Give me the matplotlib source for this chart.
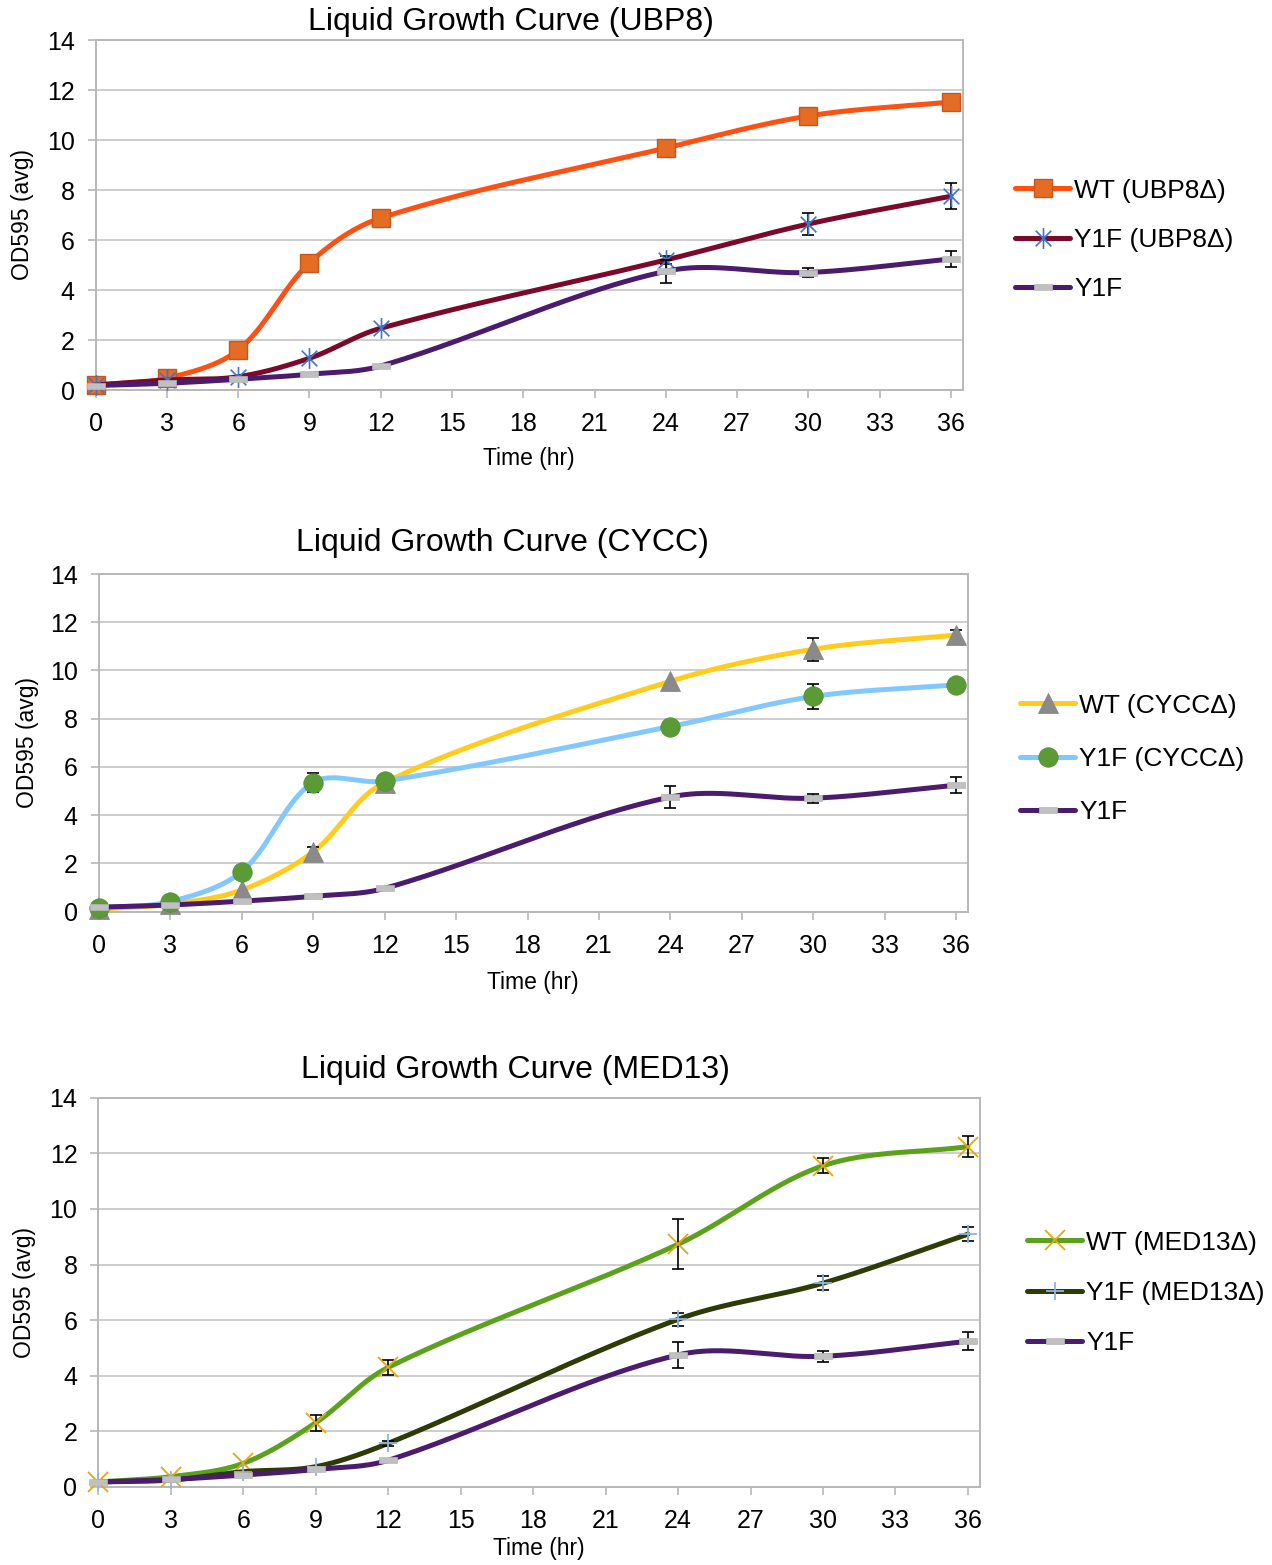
import numpy as np
import matplotlib.pyplot as plt
from matplotlib.path import Path
from matplotlib.lines import Line2D

plt.rcParams['font.family'] = ['Liberation Sans', 'DejaVu Sans']

W, H = 1272, 1565

hours = [0, 3, 6, 9, 12, 24, 30, 36]

# Y1F control, same in all three panels
y1f = [0.18, 0.27, 0.43, 0.63, 0.96, 4.75, 4.70, 5.24]
y1f_err = [0, 0, 0, 0, 0, 0.47, 0.19, 0.33]

# UBP8
ubp8_wt = [0.2, 0.47, 1.6, 5.08, 6.88, 9.68, 10.96, 11.52]
ubp8_wt_err = [0, 0, 0, 0, 0, 0, 0, 0]
ubp8_y1f = [0.2, 0.4, 0.53, 1.27, 2.47, 5.2, 6.64, 7.75]
ubp8_y1f_err = [0, 0, 0, 0, 0, 0.15, 0.43, 0.52]

# CYCC
cycc_wt = [0.1, 0.3, 0.89, 2.47, 5.35, 9.55, 10.88, 11.47]
cycc_wt_err = [0, 0, 0, 0.2, 0, 0, 0.48, 0.2]
cycc_y1f = [0.15, 0.41, 1.65, 5.35, 5.41, 7.67, 8.92, 9.4]
cycc_y1f_err = [0, 0, 0, 0.41, 0, 0, 0.5, 0]

# MED13
med13_wt = [0.18, 0.37, 0.85, 2.31, 4.3, 8.73, 11.55, 12.24]
med13_wt_err = [0, 0, 0, 0.28, 0.28, 0.89, 0.27, 0.39]
med13_y1f = [0.18, 0.25, 0.55, 0.73, 1.57, 6.03, 7.33, 9.09]
med13_y1f_err = [0, 0, 0, 0, 0.1, 0.24, 0.26, 0.26]

M, L, C = Path.MOVETO, Path.LINETO, Path.CLOSEPOLY
ast = Path([(0, -1), (0, 1), (-0.75, -0.75), (0.75, 0.75), (-0.75, 0.75), (0.75, -0.75)],
           [M, L, M, L, M, L])
dash = Path([(-1, -0.33), (1, -0.33), (1, 0.33), (-1, 0.33), (-1, -0.33)], [M, L, L, L, C])


def smooth(x, y, sx, sy, n=50):
    # excel-like smoothed line: bezier, tangents weighted by screen chord length
    P = np.column_stack([np.asarray(x, float) * sx, np.asarray(y, float) * sy])
    k = len(P)
    d = np.hypot(*np.diff(P, axis=0).T)
    t = np.linspace(0, 1, n)[:, None]
    out = []
    for i in range(k - 1):
        p0, p3 = P[i], P[i + 1]
        if i == 0:
            c1 = p0 + (p3 - p0) / 3
        else:
            c1 = p0 + (P[i + 1] - P[i - 1]) * d[i] / (d[i - 1] + d[i]) / 3
        if i + 1 == k - 1:
            c2 = p3 - (p3 - p0) / 3
        else:
            c2 = p3 - (P[i + 2] - P[i]) * d[i] / (d[i] + d[i + 1]) / 3
        seg = (1 - t)**3 * p0 + 3 * (1 - t)**2 * t * c1 + 3 * (1 - t) * t**2 * c2 + t**3 * p3
        out.append(seg)
    out = np.vstack(out)
    return out[:, 0] / sx, out[:, 1] / sy


def series(ax, y, err, color, mk, z, sx, sy):
    x = np.array(hours, float)
    y = np.array(y, float)
    err = np.array(err, float)
    xs, ys = smooth(x, y, sx, sy)
    ax.plot(xs, ys, color=color, lw=3.6, solid_capstyle='round', zorder=z, clip_on=False)
    m = err > 0
    if m.any():
        ax.errorbar(x[m], y[m], yerr=err[m], fmt='none', ecolor='black', elinewidth=1.2,
                    capsize=4.5, capthick=1.2, zorder=z + 0.1, clip_on=False)
    ax.plot(x, y, ls='none', zorder=z + 0.2, clip_on=False, **mk)
    return Line2D([], [], color=color, lw=3.6, solid_capstyle='round', **mk)


mk_square = dict(marker='s', ms=13, mfc='#E46C24', mec='#C8561A', mew=1)
mk_ast = dict(marker=ast, ms=15, mfc='none', mec='#4472C4', mew=1.2)
mk_dash = dict(marker=dash, ms=13, mfc='#C0C0C0', mec='#B8B8B8', mew=0.5)
mk_tri = dict(marker='^', ms=14, mfc='#8A8A8A', mec='#808080', mew=0.5)
mk_circ = dict(marker='o', ms=14, mfc='#5B9B36', mec='#4F8A2E', mew=0.5)
mk_x = dict(marker='x', ms=15, mfc='none', mec='#E5A810', mew=1.3)
mk_plus = dict(marker='+', ms=13, mfc='none', mec='#8DB4E2', mew=1.3)


def make_axes(fig, left, right, top, bottom):
    ax = fig.add_axes([left / W, 1 - bottom / H, (right - left) / W, (bottom - top) / H])
    ax.set_xlim(0, 36.5)
    ax.set_ylim(0, 14)
    ax.set_xticks(range(0, 37, 3))
    ax.set_yticks(range(0, 15, 2))
    ax.grid(axis='y', color='#C0C0C0', lw=1.1)
    ax.set_axisbelow(True)
    for s in ax.spines.values():
        s.set_color('#B8B8B8')
        s.set_linewidth(1.4)
    ax.tick_params(axis='both', labelsize=18, color='#B8B8B8', width=1.2, length=6, pad=9)
    ax.tick_params(axis='x', pad=10)
    return ax


fig = plt.figure(figsize=(W / 100, H / 100), dpi=100)

panels = [
    dict(box=(95.7, 962.7, 40, 390), title='Liquid Growth Curve (UBP8)', tpos=(511, 22),
         xl=(529, 459), yl=(22, 215), leg=(1015, 240), ls=0.96,
         data=[(ubp8_wt, ubp8_wt_err, '#FF5014', mk_square, 'WT (UBP8Δ)'),
               (ubp8_y1f, ubp8_y1f_err, '#7B0A2A', mk_ast, 'Y1F (UBP8Δ)'),
               (y1f, y1f_err, '#4B1B6E', mk_dash, 'Y1F')]),
    dict(box=(98.7, 968.3, 574, 911.5), title='Liquid Growth Curve (CYCC)', tpos=(502, 543),
         xl=(533, 982), yl=(28, 743), leg=(1020, 759), ls=1.11,
         data=[(cycc_wt, cycc_wt_err, '#FFCC1E', mk_tri, 'WT (CYCCΔ)'),
               (cycc_y1f, cycc_y1f_err, '#82C8FF', mk_circ, 'Y1F (CYCCΔ)'),
               (y1f, y1f_err, '#4B1B6E', mk_dash, 'Y1F')]),
    dict(box=(98.3, 980, 1097.7, 1487), title='Liquid Growth Curve (MED13)', tpos=(515, 1070),
         xl=(539, 1549), yl=(25, 1293), leg=(1027, 1293), ls=1.0,
         data=[(med13_wt, med13_wt_err, '#5BA11C', mk_x, 'WT (MED13Δ)'),
               (med13_y1f, med13_y1f_err, '#2E3B06', mk_plus, 'Y1F (MED13Δ)'),
               (y1f, y1f_err, '#4B1B6E', mk_dash, 'Y1F')]),
]

for p in panels:
    left, right, top, bottom = p['box']
    ax = make_axes(fig, left, right, top, bottom)
    sx = (right - left) / 36.5
    sy = (bottom - top) / 14
    handles = []
    for i, (y, e, c, mk, lab) in enumerate(p['data']):
        h = series(ax, y, e, c, mk, 3 + i, sx, sy)
        h.set_label(lab)
        handles.append(h)
    fig.text(p['tpos'][0] / W, 1 - p['tpos'][1] / H, p['title'], fontsize=23,
             ha='center', va='center')
    fig.text(p['xl'][0] / W, 1 - p['xl'][1] / H, 'Time (hr)', fontsize=16.5,
             ha='center', va='center')
    fig.text(p['yl'][0] / W, 1 - p['yl'][1] / H, 'OD595 (avg)', fontsize=16.5,
             ha='center', va='center', rotation=90)
    ax.legend(handles=handles, loc='center left',
              bbox_to_anchor=(p['leg'][0] / W, 1 - p['leg'][1] / H),
              bbox_transform=fig.transFigure, frameon=False, fontsize=19,
              handlelength=2.1, handletextpad=0.15, labelspacing=p['ls'],
              borderpad=0, borderaxespad=0, numpoints=1)

fig.savefig('out.png', dpi=100)
